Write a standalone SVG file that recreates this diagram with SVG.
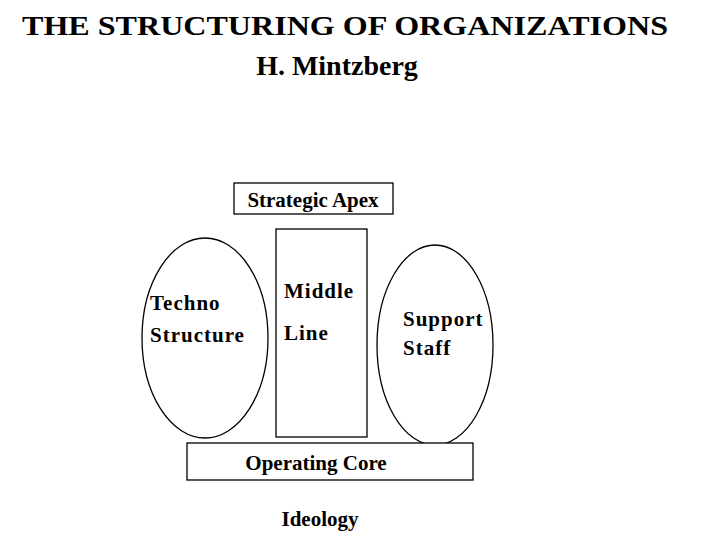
<svg xmlns="http://www.w3.org/2000/svg" width="720" height="540" viewBox="0 0 720 540">
<style>
text{font-family:"Liberation Serif",serif;fill:#000}
.t{font-size:28px;font-weight:bold}
.l{font-size:21px;font-weight:bold;letter-spacing:1px}
.n{font-size:21px;font-weight:bold}
.s{fill:#fff;stroke:#000;stroke-width:1.3}
</style>
<rect width="720" height="540" fill="#fff"/>
<g id="title">
<text class="t" x="345" y="35" text-anchor="middle" textLength="646" lengthAdjust="spacingAndGlyphs">THE STRUCTURING OF ORGANIZATIONS</text>
<text class="t" x="337" y="75" text-anchor="middle">H. Mintzberg</text>
</g>
<g id="strategic-apex">
<rect class="s" x="234" y="183" width="159" height="31"/>
<text class="n" x="313" y="207" text-anchor="middle">Strategic Apex</text>
</g>
<g id="middle-line">
<rect class="s" x="276" y="229" width="91" height="208"/>
<text class="l" x="284" y="298">Middle</text>
<text class="l" x="284" y="340">Line</text>
</g>
<g id="techno-structure">
<ellipse class="s" cx="205" cy="338" rx="63" ry="100"/>
<text class="l" x="150" y="310">Techno</text>
<text class="l" x="150" y="342">Structure</text>
</g>
<g id="support-staff">
<ellipse class="s" cx="435" cy="345" rx="58" ry="100"/>
<text class="l" x="403" y="326">Support</text>
<text class="l" x="403" y="355">Staff</text>
</g>
<g id="operating-core">
<rect class="s" x="187" y="443" width="286" height="37"/>
<text class="n" x="316" y="470" text-anchor="middle">Operating Core</text>
</g>
<g id="ideology">
<text class="n" x="320" y="526" text-anchor="middle">Ideology</text>
</g>
<g id="connectors"/>
</svg>
